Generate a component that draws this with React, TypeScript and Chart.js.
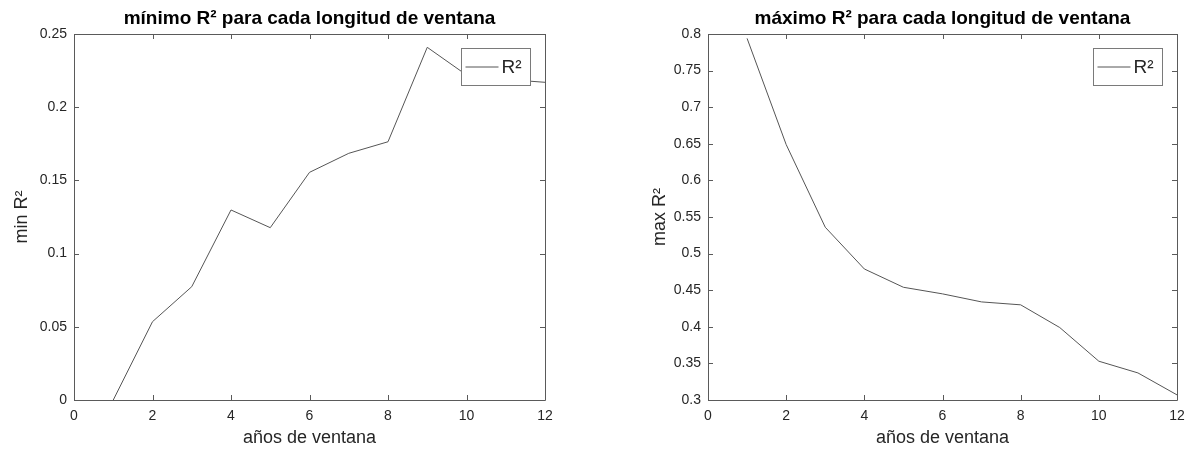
import React, { useEffect, useRef } from "react";
import { Chart, registerables } from "chart.js";

Chart.register(...registerables);

// ---- data ----
const years = [1, 2, 3, 4, 5, 6, 7, 8, 9, 10, 11, 12];
const minR2 = [0, 0.0535, 0.0774, 0.1298, 0.1177, 0.1555, 0.1685, 0.1764, 0.2409, 0.222, 0.219, 0.217];
const maxR2 = [0.794, 0.649, 0.536, 0.479, 0.454, 0.445, 0.434, 0.43, 0.399, 0.353, 0.337, 0.307];
const xTicks = [0, 2, 4, 6, 8, 10, 12];
const minYTicks = [0, 0.05, 0.1, 0.15, 0.2, 0.25];
const maxYTicks = [0.3, 0.35, 0.4, 0.45, 0.5, 0.55, 0.6, 0.65, 0.7, 0.75, 0.8];
const minTitle = "mínimo R² para cada longitud de ventana";
const maxTitle = "máximo R² para cada longitud de ventana";
const xLabel = "años de ventana";
const minYLabel = "min R²";
const maxYLabel = "max R²";
const legendLabel = "R²";

const FONT = "'Liberation Sans', Arial, Helvetica, sans-serif";
const AXIS_COLOR = "#5a5a5a";
const LINE_COLOR = "#555555";
const TEXT_COLOR = "#262626";

const fmt = (v: number) => String(Number(Number(v).toFixed(2)));

const boxPlugin = {
  id: "matlabBox",
  beforeDatasetsDraw(chart: any) {
    const { ctx, chartArea } = chart;
    const { left, right, top, bottom } = chartArea;
    const xs = chart.scales.x;
    const ys = chart.scales.y;
    const tl = 5;
    ctx.save();
    ctx.strokeStyle = AXIS_COLOR;
    ctx.lineWidth = 1;
    ctx.beginPath();
    ctx.rect(Math.round(left) + 0.5, Math.round(top) + 0.5, Math.round(right - left), Math.round(bottom - top));
    ctx.stroke();
    ctx.beginPath();
    xs.ticks.forEach((t: any) => {
      const px = Math.round(xs.getPixelForValue(t.value)) + 0.5;
      ctx.moveTo(px, bottom);
      ctx.lineTo(px, bottom - tl);
      ctx.moveTo(px, top);
      ctx.lineTo(px, top + tl);
    });
    ys.ticks.forEach((t: any) => {
      const py = Math.round(ys.getPixelForValue(t.value)) + 0.5;
      ctx.moveTo(left, py);
      ctx.lineTo(left + tl, py);
      ctx.moveTo(right, py);
      ctx.lineTo(right - tl, py);
    });
    ctx.stroke();
    ctx.restore();
  },
  afterDatasetsDraw(chart: any) {
    const { ctx, chartArea } = chart;
    const w = 69;
    const h = 37;
    const bx = Math.round(chartArea.right - 15 - w) + 0.5;
    const by = Math.round(chartArea.top + 14) + 0.5;
    ctx.save();
    ctx.fillStyle = "#ffffff";
    ctx.fillRect(bx, by, w, h);
    ctx.strokeStyle = "#7a7a7a";
    ctx.lineWidth = 1;
    ctx.strokeRect(bx, by, w, h);
    ctx.strokeStyle = LINE_COLOR;
    ctx.beginPath();
    ctx.moveTo(bx + 4, by + h / 2);
    ctx.lineTo(bx + 37, by + h / 2);
    ctx.stroke();
    ctx.fillStyle = TEXT_COLOR;
    ctx.font = `19px ${FONT}`;
    ctx.textBaseline = "middle";
    ctx.textAlign = "left";
    ctx.fillText(legendLabel, bx + 40, by + h / 2 + 1);
    ctx.restore();
  },
};

function makeConfig(
  values: number[],
  yTicks: number[],
  title: string,
  yLabel: string,
  yAxisWidth: number,
  padRight: number,
  yTitlePad: number
): any {
  return {
    type: "line",
    data: {
      datasets: [
        {
          label: legendLabel,
          data: years.map((x, i) => ({ x, y: values[i] })),
          borderColor: LINE_COLOR,
          borderWidth: 1,
          pointRadius: 0,
          fill: false,
          tension: 0,
        },
      ],
    },
    options: {
      animation: false,
      responsive: false,
      devicePixelRatio: 1,
      layout: { padding: { left: 0, right: padRight, top: 0, bottom: 0 } },
      plugins: {
        legend: { display: false },
        tooltip: { enabled: false },
        title: {
          display: true,
          fullSize: false,
          text: title,
          color: "#000000",
          font: { family: FONT, size: 19, weight: "bold", lineHeight: 1.2 },
          padding: { top: 7, bottom: 4.2 },
        },
      },
      scales: {
        x: {
          type: "linear",
          min: 0,
          max: 12,
          afterBuildTicks: (s: any) => {
            s.ticks = xTicks.map((v) => ({ value: v }));
          },
          afterFit: (s: any) => {
            s.height = 54;
          },
          grid: { display: false, drawTicks: false },
          border: { display: false },
          ticks: {
            color: TEXT_COLOR,
            font: { family: FONT, size: 14 },
            padding: 8,
            maxRotation: 0,
            autoSkip: false,
            callback: (v: any) => fmt(v),
          },
          title: {
            display: true,
            text: xLabel,
            color: TEXT_COLOR,
            font: { family: FONT, size: 18, lineHeight: 1.2 },
            padding: { top: 0, bottom: 5 },
          },
        },
        y: {
          type: "linear",
          min: yTicks[0],
          max: yTicks[yTicks.length - 1],
          afterBuildTicks: (s: any) => {
            s.ticks = yTicks.map((v) => ({ value: v }));
          },
          afterFit: (s: any) => {
            s.width = yAxisWidth;
          },
          grid: { display: false, drawTicks: false },
          border: { display: false },
          ticks: {
            color: TEXT_COLOR,
            font: { family: FONT, size: 14 },
            padding: 7,
            autoSkip: false,
            callback: (v: any) => fmt(v),
          },
          title: {
            display: true,
            text: yLabel,
            color: TEXT_COLOR,
            font: { family: FONT, size: 18, lineHeight: 1.2 },
            padding: { top: yTitlePad, bottom: 0 },
          },
        },
      },
    },
    plugins: [boxPlugin],
  };
}

function ChartCanvas(props: { config: any; width: number; height: number; left: number }) {
  const ref = useRef<HTMLCanvasElement | null>(null);
  useEffect(() => {
    if (!ref.current) return;
    const chart = new Chart(ref.current, props.config);
    return () => chart.destroy();
  }, []);
  return (
    <canvas
      ref={ref}
      width={props.width}
      height={props.height}
      style={{ position: "absolute", left: props.left, top: 0, width: props.width, height: props.height }}
    />
  );
}

export default function App() {
  const leftCfg = makeConfig(minR2, minYTicks, minTitle, minYLabel, 74, 55, 11);
  const rightCfg = makeConfig(maxR2, maxYTicks, maxTitle, maxYLabel, 108, 19, 49);
  return (
    <div
      style={{
        position: "fixed",
        left: 0,
        top: 0,
        width: 1196,
        height: 454,
        background: "#ffffff",
        overflow: "hidden",
      }}
    >
      <ChartCanvas config={leftCfg} width={600} height={454} left={0} />
      <ChartCanvas config={rightCfg} width={596} height={454} left={600} />
    </div>
  );
}
